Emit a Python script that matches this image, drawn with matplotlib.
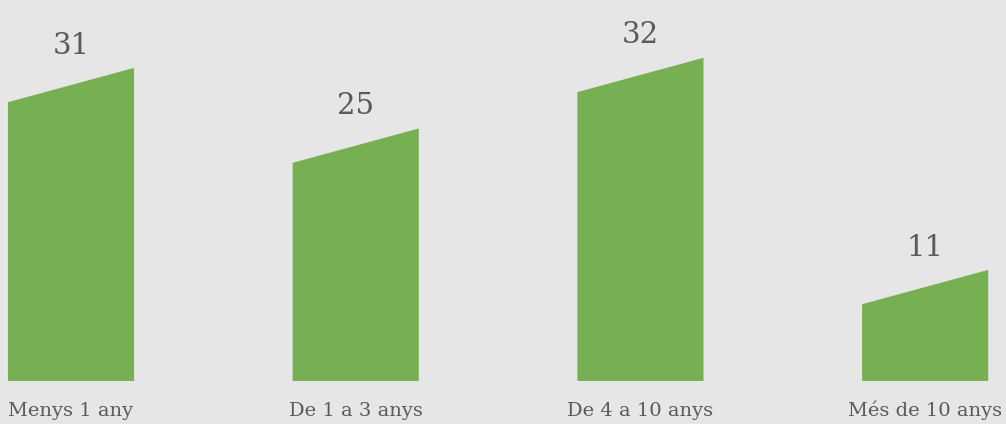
import matplotlib.pyplot as plt
from matplotlib.patches import Polygon

categories = ["Menys 1 any", "De 1 a 3 anys", "De 4 a 10 anys", "Més de 10 anys"]
values = [31, 25, 32, 11]

bg = "#e6e6e6"
green = "#76b053"
text_color = "#5a5a5a"
slant = 3.4      # drop of the left edge of each bar top, in data units
bar_w = 0.443

fig = plt.figure(figsize=(10.06, 4.24), dpi=100, facecolor=bg)
ax = fig.add_axes([0, 0, 1, 1])
ax.set_facecolor(bg)

for i, (cat, v) in enumerate(zip(categories, values)):
    x0, x1 = i - bar_w / 2, i + bar_w / 2
    poly = Polygon([(x0, 0), (x1, 0), (x1, v), (x0, v - slant)],
                   closed=True, facecolor=green, edgecolor="none")
    ax.add_patch(poly)
    ax.annotate(str(v), (i, v), xytext=(0, 6), textcoords="offset points",
                ha="center", va="bottom", fontsize=21, color=text_color,
                family="DejaVu Serif", fontweight="light")
    ax.annotate(cat, (i, 0), xytext=(0, -25), textcoords="offset points",
                ha="center", va="baseline", fontsize=14, color=text_color,
                family="DejaVu Serif")

ax.set_xlim(-0.2494, 3.284)
ax.set_ylim(-4.26, 37.72)
ax.axis("off")

fig.savefig("out.png", dpi=100, facecolor=bg)
